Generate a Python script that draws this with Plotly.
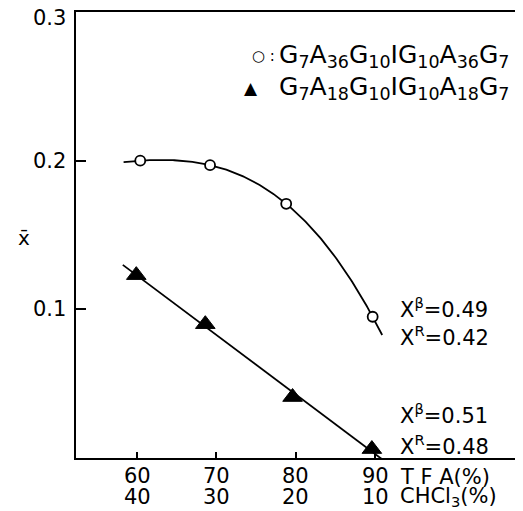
import numpy as np
import plotly.graph_objects as go

# ---- data ----
tfa_ticks = [60, 70, 80, 90]
chcl3_ticks = [40, 30, 20, 10]
y_ticks = [0.1, 0.2, 0.3]
y_tick_text = ["0.1", "0.2", "0.3"]

a36_x = [60.4, 69.2, 78.8, 89.7]
a36_y = [0.200, 0.197, 0.171, 0.095]
a18_x = [59.9, 68.6, 79.6, 89.6]
a18_y = [0.123, 0.090, 0.041, 0.006]

a36_curve_span = [58.3, 90.9]
a18_line_span = [58.2, 90.9]

a36_label = "G<sub>7</sub>A<sub>36</sub>G<sub>10</sub>IG<sub>10</sub>A<sub>36</sub>G<sub>7</sub>"
a18_label = "G<sub>7</sub>A<sub>18</sub>G<sub>10</sub>IG<sub>10</sub>A<sub>18</sub>G<sub>7</sub>"
a36_chi = ["X<sup>β</sup>=0.49", "X<sup>R</sup>=0.42"]
a18_chi = ["X<sup>β</sup>=0.51", "X<sup>R</sup>=0.48"]

FONT = "DejaVu Sans"
FS = 21

# fitted curves from the data
c3 = np.polyfit(a36_x, a36_y, 3)
xc = np.linspace(a36_curve_span[0], a36_curve_span[1], 200)
yc = np.polyval(c3, xc)
c1 = np.polyfit(a18_x, a18_y, 1)
xl = np.array(a18_line_span)
yl = np.polyval(c1, xl)

fig = go.Figure()
fig.add_trace(go.Scatter(x=xc, y=yc, mode="lines", line=dict(color="black", width=1.8),
                         hoverinfo="skip", showlegend=False))
fig.add_trace(go.Scatter(x=xl, y=yl, mode="lines", line=dict(color="black", width=1.8),
                         hoverinfo="skip", showlegend=False))
fig.add_trace(go.Scatter(x=a36_x, y=a36_y, mode="markers",
                         marker=dict(symbol="circle", size=10, color="white",
                                     line=dict(color="black", width=1.8)),
                         showlegend=False))
fig.add_trace(go.Scatter(x=a18_x, y=a18_y, mode="markers",
                         marker=dict(symbol="triangle-up", size=17, color="black",
                                     line=dict(color="black", width=1)),
                         showlegend=False))

# page has an 8px body margin; figure is offset by it
OFF = 8
W, H = 523 - OFF, 511 - OFF
L, R, T, B = 76 - OFF, 2, 12 - OFF, 53
pw, ph = W - L - R, H - T - B


def px(xp):
    return (xp - OFF - L) / pw


def py(yp):
    return (H - B - (yp - OFF)) / ph


def txt(x, y, text, size=FS, xanchor="left", xref="paper", yref="paper", xshift=0, yshift=0):
    return dict(x=x, y=y, xref=xref, yref=yref, text=text, showarrow=False,
                xanchor=xanchor, yanchor="middle", xshift=xshift, yshift=yshift,
                font=dict(family=FONT, size=size, color="black"))


ann = []
# y tick labels (top one nudged down so it stays on the page)
for v, s in zip(y_ticks, y_tick_text):
    ann.append(txt(0, v, s, xanchor="right", yref="y", xshift=-8,
                   yshift=(-6 if v == max(y_ticks) else 0)))
# x tick labels (two rows)
for t, c in zip(tfa_ticks, chcl3_ticks):
    ann.append(txt(t, py(476), str(t), xanchor="center", xref="x"))
    ann.append(txt(t, py(497), str(c), xanchor="center", xref="x"))
ann.append(txt(px(398), py(477), "T F A(%)"))
ann.append(txt(px(398), py(497), "CHCl<sub>3</sub>(%)"))
# legend
ann.append(txt(px(250), py(56), "○ :", size=15))
ann.append(txt(px(277), py(56), a36_label, size=25))
ann.append(txt(px(242), py(88), "▲", size=17))
ann.append(txt(px(277), py(88), a18_label, size=25))
# chi annotations
for t_, yp in zip(a36_chi, [308, 336]):
    ann.append(txt(px(398), py(yp), t_))
for t_, yp in zip(a18_chi, [414, 445]):
    ann.append(txt(px(398), py(yp), t_))
# y axis label
ann.append(txt(px(24), py(238), "x̄", size=20, xanchor="center"))

fig.update_layout(
    width=W, height=H,
    margin=dict(l=L, r=R, t=T, b=B),
    paper_bgcolor="white", plot_bgcolor="white",
    annotations=ann,
    xaxis=dict(range=[52.3, 108.4], showgrid=False, zeroline=False,
               showline=True, linecolor="black", linewidth=2, mirror=True,
               ticks="inside", ticklen=6, tickwidth=1.5, tickcolor="black",
               tickvals=tfa_ticks, showticklabels=False),
    yaxis=dict(range=[0, 0.3], showgrid=False, zeroline=False,
               showline=True, linecolor="black", linewidth=2,
               ticks="inside", ticklen=10, tickwidth=1.5, tickcolor="black",
               tickvals=y_ticks, showticklabels=False),
    shapes=[dict(type="line", xref="paper", yref="paper", x0=1, x1=1, y0=0.45, y1=1,
                 line=dict(color="#888888", width=1, dash="dot"))],
)

fig.write_html("out.html")
